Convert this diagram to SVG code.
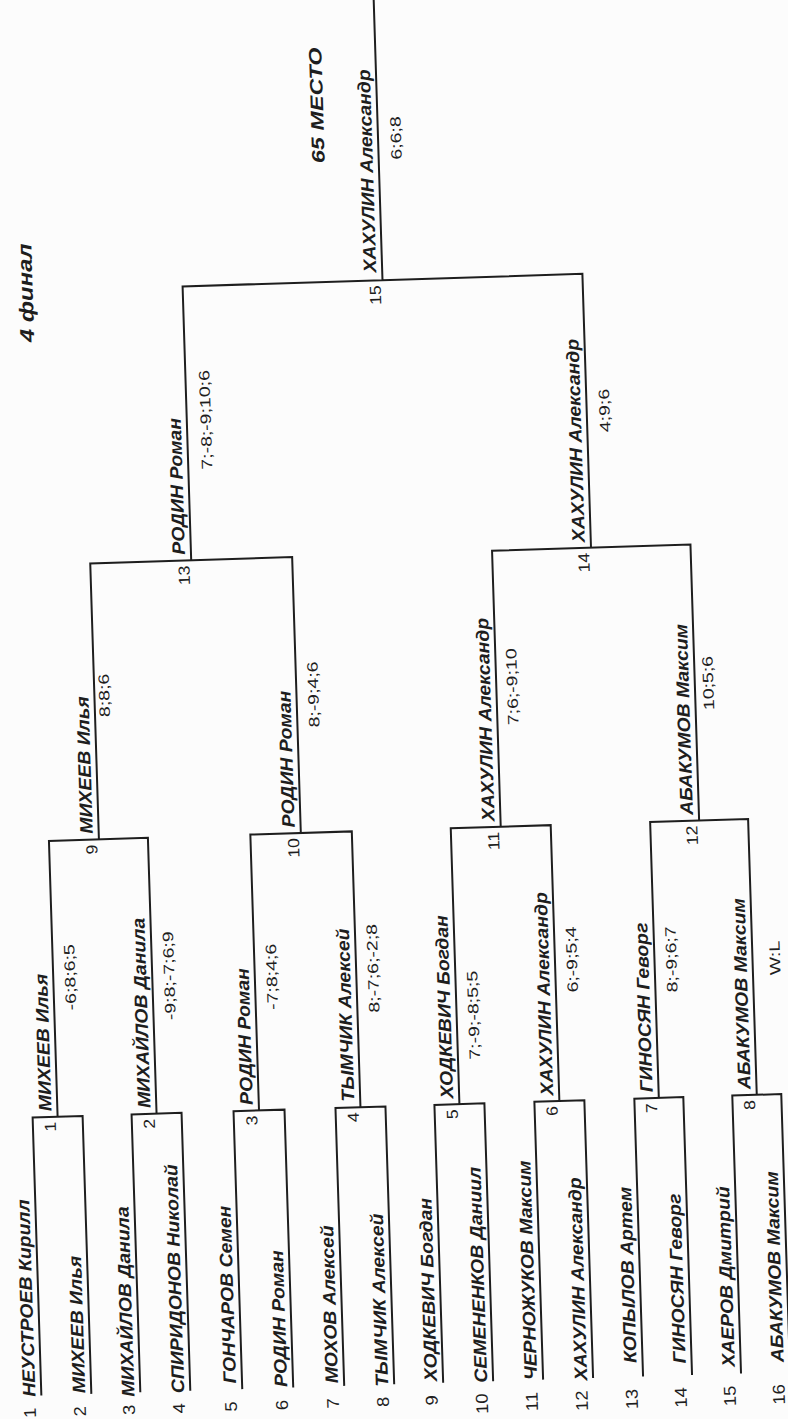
<svg xmlns="http://www.w3.org/2000/svg" width="788" height="1419" viewBox="0 0 788 1419">
<style>
.ln{fill:none;stroke:#1e1e1e;stroke-width:2}
text{font-family:"Liberation Sans",Arial,sans-serif;fill:#1e1e1e}
.nm{font-size:18px;font-weight:bold;font-style:italic}
.pn{font-size:17px;text-anchor:end}
.mn{font-size:16px;text-anchor:end}
.sc{font-size:15px}
.tt{font-size:20px;font-weight:bold;font-style:italic}
</style>
<rect width="788" height="1419" fill="#fcfcfc"/>
<g transform="rotate(-1.8 394 710)">
<g id="connectors" class="ln">
<path d="M20 1384V1106H70V1384M119 1384V1106H169V1384M221 1384V1106H272V1384M323 1384V1106H373V1384M422 1384V1106H472V1384M522 1384V1106H572V1384M622 1384V1106H671V1384M720 1384V1106H769V1384"/>
<path d="M45 1106V830H144V1106M246.5 1106V830H348V1106M447 1106V830H547V1106M646.5 1106V830H744.5V1106"/>
<path d="M95 830V554H297V830M497 830V554H695.5V830"/>
<path d="M196 554V280H596V554M396 280V-30"/>
</g>
<g id="title"><text class="tt" transform="translate(46,331) rotate(-90) scale(1.2,1)">4 финал</text></g>
<g id="p1"><text class="pn" transform="translate(14,1396) rotate(-90) scale(1.08,1)">1</text><text class="nm" transform="translate(14,1385) rotate(-90) scale(1.08,1)">НЕУСТРОЕВ Кирилл</text></g>
<g id="p2"><text class="pn" transform="translate(64,1396) rotate(-90) scale(1.08,1)">2</text><text class="nm" transform="translate(64,1383) rotate(-90) scale(1.08,1)">МИХЕЕВ Илья</text></g>
<g id="p3"><text class="pn" transform="translate(113,1396) rotate(-90) scale(1.08,1)">3</text><text class="nm" transform="translate(113,1388) rotate(-90) scale(1.08,1)">МИХАЙЛОВ Данила</text></g>
<g id="p4"><text class="pn" transform="translate(163,1396) rotate(-90) scale(1.08,1)">4</text><text class="nm" transform="translate(163,1386) rotate(-90) scale(1.08,1)">СПИРИДОНОВ Николай</text></g>
<g id="p5"><text class="pn" transform="translate(215,1396) rotate(-90) scale(1.08,1)">5</text><text class="nm" transform="translate(215,1378) rotate(-90) scale(1.08,1)">ГОНЧАРОВ Семен</text></g>
<g id="p6"><text class="pn" transform="translate(266,1396) rotate(-90) scale(1.08,1)">6</text><text class="nm" transform="translate(266,1383) rotate(-90) scale(1.08,1)">РОДИН Роман</text></g>
<g id="p7"><text class="pn" transform="translate(317,1396) rotate(-90) scale(1.08,1)">7</text><text class="nm" transform="translate(317,1381) rotate(-90) scale(1.08,1)">МОХОВ Алексей</text></g>
<g id="p8"><text class="pn" transform="translate(367,1396) rotate(-90) scale(1.08,1)">8</text><text class="nm" transform="translate(367,1386) rotate(-90) scale(1.08,1)">ТЫМЧИК Алексей</text></g>
<g id="p9"><text class="pn" transform="translate(416,1396) rotate(-90) scale(1.08,1)">9</text><text class="nm" transform="translate(416,1382) rotate(-90) scale(1.08,1)">ХОДКЕВИЧ Богдан</text></g>
<g id="p10"><text class="pn" transform="translate(466,1396) rotate(-90) scale(1.08,1)">10</text><text class="nm" transform="translate(466,1385) rotate(-90) scale(1.08,1)">СЕМЕНЕНКОВ Даниил</text></g>
<g id="p11"><text class="pn" transform="translate(516,1396) rotate(-90) scale(1.08,1)">11</text><text class="nm" transform="translate(516,1384) rotate(-90) scale(1.08,1)">ЧЕРНОЖУКОВ Максим</text></g>
<g id="p12"><text class="pn" transform="translate(566,1396) rotate(-90) scale(1.08,1)">12</text><text class="nm" transform="translate(566,1386) rotate(-90) scale(1.08,1)">ХАХУЛИН Александр</text></g>
<g id="p13"><text class="pn" transform="translate(616,1396) rotate(-90) scale(1.08,1)">13</text><text class="nm" transform="translate(616,1370) rotate(-90) scale(1.08,1)">КОПЫЛОВ Артем</text></g>
<g id="p14"><text class="pn" transform="translate(665,1396) rotate(-90) scale(1.08,1)">14</text><text class="nm" transform="translate(665,1372) rotate(-90) scale(1.08,1)">ГИНОСЯН Геворг</text></g>
<g id="p15"><text class="pn" transform="translate(714,1396) rotate(-90) scale(1.08,1)">15</text><text class="nm" transform="translate(714,1377) rotate(-90) scale(1.08,1)">ХАЕРОВ Дмитрий</text></g>
<g id="p16"><text class="pn" transform="translate(763,1396) rotate(-90) scale(1.08,1)">16</text><text class="nm" transform="translate(763,1374) rotate(-90) scale(1.08,1)">АБАКУМОВ Максим</text></g>
<g id="m1"><text class="mn" transform="translate(43,1111) rotate(-90) scale(1.1,1)">1</text><text class="nm" transform="translate(39,1100) rotate(-90) scale(1.08,1)">МИХЕЕВ Илья</text><text class="sc" transform="translate(67,1000) rotate(-90) scale(1.3,1)">-6;8;6;5</text></g>
<g id="m2"><text class="mn" transform="translate(142,1111) rotate(-90) scale(1.1,1)">2</text><text class="nm" transform="translate(138,1100) rotate(-90) scale(1.08,1)">МИХАЙЛОВ Данила</text><text class="sc" transform="translate(166,1013) rotate(-90) scale(1.3,1)">-9;8;-7;6;9</text></g>
<g id="m3"><text class="mn" transform="translate(244.5,1111) rotate(-90) scale(1.1,1)">3</text><text class="nm" transform="translate(240.5,1100) rotate(-90) scale(1.08,1)">РОДИН Роман</text><text class="sc" transform="translate(268.5,1006) rotate(-90) scale(1.3,1)">-7;8;4;6</text></g>
<g id="m4"><text class="mn" transform="translate(346,1111) rotate(-90) scale(1.1,1)">4</text><text class="nm" transform="translate(342,1100) rotate(-90) scale(1.08,1)">ТЫМЧИК Алексей</text><text class="sc" transform="translate(370,1012) rotate(-90) scale(1.3,1)">8;-7;6;-2;8</text></g>
<g id="m5"><text class="mn" transform="translate(445,1111) rotate(-90) scale(1.1,1)">5</text><text class="nm" transform="translate(441,1100) rotate(-90) scale(1.08,1)">ХОДКЕВИЧ Богдан</text><text class="sc" transform="translate(469,1062) rotate(-90) scale(1.3,1)">7;-9;-8;5;5</text></g>
<g id="m6"><text class="mn" transform="translate(545,1111) rotate(-90) scale(1.1,1)">6</text><text class="nm" transform="translate(541,1100) rotate(-90) scale(1.08,1)">ХАХУЛИН Александр</text><text class="sc" transform="translate(569,998) rotate(-90) scale(1.3,1)">6;-9;5;4</text></g>
<g id="m7"><text class="mn" transform="translate(644.5,1111) rotate(-90) scale(1.1,1)">7</text><text class="nm" transform="translate(640.5,1100) rotate(-90) scale(1.08,1)">ГИНОСЯН Геворг</text><text class="sc" transform="translate(668.5,1001) rotate(-90) scale(1.3,1)">8;-9;6;7</text></g>
<g id="m8"><text class="mn" transform="translate(742.5,1111) rotate(-90) scale(1.1,1)">8</text><text class="nm" transform="translate(738.5,1100) rotate(-90) scale(1.08,1)">АБАКУМОВ Максим</text><text class="sc" transform="translate(772,987) rotate(-90) scale(1.3,1)">W:L</text></g>
<g id="m9"><text class="mn" transform="translate(93,835) rotate(-90) scale(1.1,1)">9</text><text class="nm" transform="translate(89,824) rotate(-90) scale(1.08,1)">МИХЕЕВ Илья</text><text class="sc" transform="translate(110,708) rotate(-90) scale(1.3,1)">8;8;6</text></g>
<g id="m10"><text class="mn" transform="translate(295,835) rotate(-90) scale(1.1,1)">10</text><text class="nm" transform="translate(291,824) rotate(-90) scale(1.08,1)">РОДИН Роман</text><text class="sc" transform="translate(319,725) rotate(-90) scale(1.3,1)">8;-9;4;6</text></g>
<g id="m11"><text class="mn" transform="translate(495,835) rotate(-90) scale(1.1,1)">11</text><text class="nm" transform="translate(491,824) rotate(-90) scale(1.08,1)">ХАХУЛИН Александр</text><text class="sc" transform="translate(518,729) rotate(-90) scale(1.3,1)">7;6;-9;10</text></g>
<g id="m12"><text class="mn" transform="translate(693.5,835) rotate(-90) scale(1.1,1)">12</text><text class="nm" transform="translate(689.5,824) rotate(-90) scale(1.08,1)">АБАКУМОВ Максим</text><text class="sc" transform="translate(714,720) rotate(-90) scale(1.3,1)">10;5;6</text></g>
<g id="m13"><text class="mn" transform="translate(194,559) rotate(-90) scale(1.1,1)">13</text><text class="nm" transform="translate(190,548) rotate(-90) scale(1.08,1)">РОДИН Роман</text><text class="sc" transform="translate(220,464) rotate(-90) scale(1.3,1)">7;-8;-9;10;6</text></g>
<g id="m14"><text class="mn" transform="translate(594,559) rotate(-90) scale(1.1,1)">14</text><text class="nm" transform="translate(590,548) rotate(-90) scale(1.08,1)">ХАХУЛИН Александр</text><text class="sc" transform="translate(619,439) rotate(-90) scale(1.3,1)">4;9;6</text></g>
<g id="m15"><text class="mn" transform="translate(394,285) rotate(-90) scale(1.1,1)">15</text><text class="nm" transform="translate(390,272) rotate(-90) scale(1.08,1)">ХАХУЛИН Александр</text><text class="sc" transform="translate(419,160) rotate(-90) scale(1.3,1)">6;6;8</text><text class="nm" transform="translate(342,161) rotate(-90) scale(1.3,1)">65 МЕСТО</text></g>
</g>
</svg>
